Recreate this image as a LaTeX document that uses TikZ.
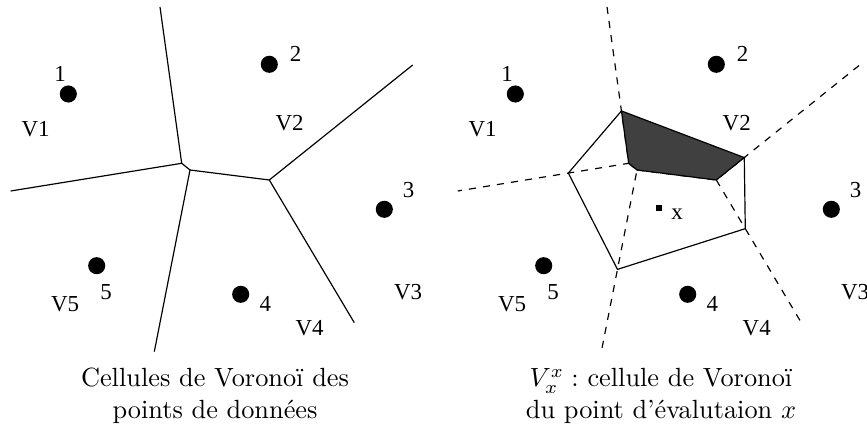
\documentclass[tikz,border=0pt]{standalone}
\usepackage{fontspec}
\newfontfamily\labelfont{Liberation Serif}
\usetikzlibrary{calc}
\begin{document}
\begin{tikzpicture}[x=0.38pt,y=-0.38pt,
  edge/.style={line width=0.45pt},
  dashedge/.style={line width=0.45pt, dash pattern=on 2.7pt off 2.7pt},
  site/.style={circle, fill=black, inner sep=0pt, minimum size=6.5pt},
  lbl/.style={font=\labelfont\fontsize{8.7}{10}\selectfont, inner sep=0pt},
  captext/.style={font=\fontsize{10}{12}\selectfont, inner sep=0pt, anchor=base}
]
\useasboundingbox (0,0) rectangle (867,428);
\clip (0,0) rectangle (867,428);

% Two copies of the same Voronoi diagram: solid on the left, dashed on the right
\foreach \p/\off/\sty in {l/0/edge, r/447/dashedge}{
  \begin{scope}[shift={(\off,0)}]
    \coordinate (Ttop\p) at (160,7);
    \coordinate (A\p) at (181.7,163.3);
    \coordinate (W\p) at (10.7,191);
    \coordinate (B\p) at (190,170);
    \coordinate (S\p) at (154.3,351.7);
    \coordinate (C\p) at (269.3,180);
    \coordinate (NE\p) at (412.7,65);
    \coordinate (SE\p) at (354.3,322.7);
    \draw[\sty] (Ttop\p) -- (A\p) -- (W\p);
    \draw[\sty] (A\p) -- (B\p) -- (S\p);
    \draw[\sty] (B\p) -- (C\p) -- (NE\p);
    \draw[\sty] (C\p) -- (SE\p);
    % data points and their cells
    \node[site] (site1\p) at (68.3,94) {};
    \node[site] (site2\p) at (269.3,64.3) {};
    \node[site] (site3\p) at (384.3,209.3) {};
    \node[site] (site4\p) at (240.7,294.3) {};
    \node[site] (site5\p) at (96.7,265.7) {};
    \node[lbl] (num1\p) at (60,74) {1};
    \node[lbl] (num2\p) at (295.5,53.8) {2};
    \node[lbl] (num3\p) at (408.7,190.5) {3};
    \node[lbl] (num4\p) at (265.3,303.8) {4};
    \node[lbl] (num5\p) at (106,292.5) {5};
    \node[lbl] (cell1\p) at (35.5,129) {V1};
    \node[lbl] (cell2\p) at (289.7,122.8) {V2};
    \node[lbl] (cell3\p) at (408,292) {V3};
    \node[lbl] (cell4\p) at (309.7,328.3) {V4};
    \node[lbl] (cell5\p) at (65,303.8) {V5};
  \end{scope}
}

% Cell of the evaluation point x
\coordinate (P1) at ($(Ar)!0.335!(Ttopr)$);
\coordinate (P2) at ($(Cr)!0.195!(NEr)$);
\coordinate (Rb) at ($(Cr)!0.341!(SEr)$);
\coordinate (Bv) at ($(Br)!0.547!(Sr)$);
\coordinate (Lv) at ($(Ar)!0.353!(Wr)$);
\filldraw[edge, fill=black!75] (P1) -- (P2) -- (Cr) -- (Br) -- (Ar) -- cycle;
\draw[edge] (P1) -- (Lv) -- (Bv) -- (Rb) -- (P2);
\node[fill=black, inner sep=0pt, minimum size=2.3pt] (xpt) at (659,208) {};
\node[lbl] (xlbl) at (677,214.5) {x};

% Captions
\node[captext] (capl1) at (215,387) {Cellules de Voronoï des};
\node[captext] (capl2) at (215,418) {points de données};
\node[captext] (capr1) at (661,387) {$V_x^x :$ cellule de Voronoï};
\node[captext] (capr2) at (661,418) {du point d'évalutaion $x$};
\end{tikzpicture}
\end{document}
